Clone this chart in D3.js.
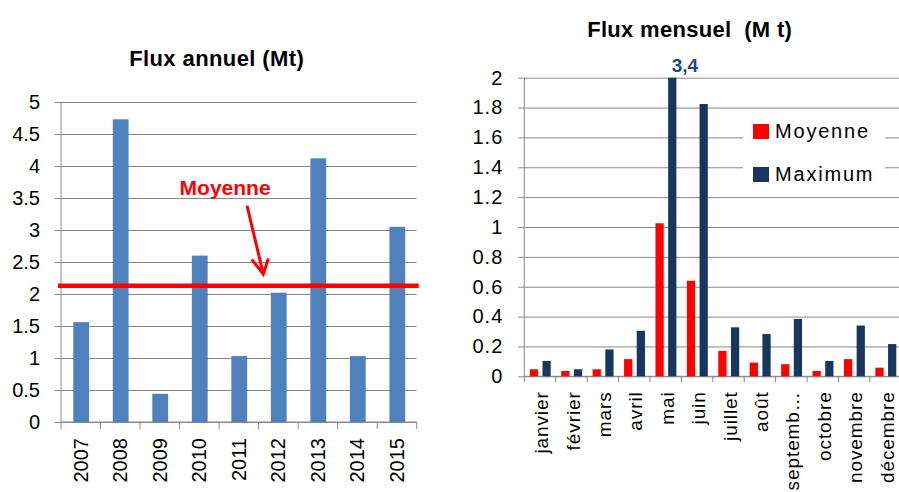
<!DOCTYPE html>
<html>
<head>
<meta charset="utf-8">
<script src="https://cdn.jsdelivr.net/npm/d3@7"></script>
<style>
  body { margin: 0; background: #fff; }
  svg { display: block; font-family: "Liberation Sans", Arial, sans-serif; }
  .grid line { stroke: #888; stroke-width: 1; }
  .grid path { display: none; }
  .axis path, .axis line { stroke: #888; }
  .axis text { fill: #000; }
</style>
</head>
<body>
<script>
// gegevens linker grafiek (flux annuel)
var annees = ["2007", "2008", "2009", "2010", "2011", "2012", "2013", "2014", "2015"];
var fluxAnnuel = [1.56, 4.73, 0.44, 2.6, 1.03, 2.02, 4.12, 1.03, 3.05];
var moyenneAnnuelle = 2.13;
var ticksAnnuel = [0, 0.5, 1, 1.5, 2, 2.5, 3, 3.5, 4, 4.5, 5];

// gegevens rechter grafiek (flux mensuel)
var mois = ["janvier", "février", "mars", "avril", "mai", "juin", "juillet", "août", "septemb…", "octobre", "novembre", "décembre"];
var series = ["Moyenne", "Maximum"];
var moyenneMensuelle = [0.047, 0.036, 0.047, 0.115, 1.025, 0.64, 0.17, 0.092, 0.081, 0.036, 0.115, 0.058];
var maximumMensuel = [0.103, 0.047, 0.18, 0.305, 3.4, 1.824, 0.328, 0.283, 0.384, 0.103, 0.34, 0.216];
var ticksMensuel = [0, 0.2, 0.4, 0.6, 0.8, 1, 1.2, 1.4, 1.6, 1.8, 2];

var svg = d3.select("body").append("svg")
    .attr("width", 899)
    .attr("height", 492);

// ---------- linker grafiek ----------
var m1 = { left: 61, top: 102 },
    w1 = 355.7,
    h1 = 320;

var xa = d3.scaleBand().domain(annees).range([0, w1]);
var ya = d3.scaleLinear().domain([0, 5]).range([h1, 0]);

var g1 = svg.append("g")
    .attr("transform", "translate(" + m1.left + "," + m1.top + ")");

g1.append("g")
    .attr("class", "grid")
    .call(d3.axisLeft(ya).tickValues(ticksAnnuel).tickSize(-w1).tickFormat(""));

g1.append("g")
    .attr("class", "axis")
    .call(d3.axisLeft(ya).tickValues(ticksAnnuel).tickFormat(function (d) { return String(d); })
        .tickSize(6).tickSizeOuter(0).tickPadding(15))
    .call(function (a) { a.selectAll("text").attr("font-size", 20); a.select(".domain").attr("d", "M0,0V" + h1); });

// bodemas met streepjes op de grenzen
g1.append("line").attr("x1", 0).attr("x2", w1).attr("y1", h1).attr("y2", h1).attr("stroke", "#888");
g1.append("g").selectAll("line")
    .data(annees.map(function (d) { return xa(d); }).concat([w1]))
    .enter().append("line")
    .attr("x1", function (d) { return d; })
    .attr("x2", function (d) { return d; })
    .attr("y1", h1).attr("y2", h1 + 7)
    .attr("stroke", "#888");

g1.append("g").selectAll("rect")
    .data(annees)
    .enter().append("rect")
    .attr("x", function (d) { return xa(d) + xa.bandwidth() * 0.31; })
    .attr("y", function (d, i) { return ya(fluxAnnuel[i]); })
    .attr("width", xa.bandwidth() * 0.4)
    .attr("height", function (d, i) { return h1 - ya(fluxAnnuel[i]); })
    .attr("fill", "#4f81bd");

g1.append("g").selectAll("text")
    .data(annees)
    .enter().append("text")
    .attr("transform", function (d) { return "translate(" + (xa(d) + xa.bandwidth() / 2) + "," + (h1 + 16) + ") rotate(-90)"; })
    .attr("dy", "0.35em")
    .attr("text-anchor", "end")
    .attr("font-size", 20)
    .text(function (d) { return d; });

// lijn van het gemiddelde
g1.append("line")
    .attr("x1", -3).attr("x2", w1 + 2)
    .attr("y1", ya(moyenneAnnuelle)).attr("y2", ya(moyenneAnnuelle))
    .attr("stroke", "#ff0000")
    .attr("stroke-width", 4.5);

g1.append("text")
    .attr("x", xa("2011") + 6)
    .attr("y", ya(3.55))
    .attr("text-anchor", "middle")
    .attr("font-size", 21)
    .attr("font-weight", "bold")
    .attr("fill", "#ff0000")
    .text("Moyenne");

// pijl naar de lijn
var tipX = xa("2012") + 4.7, tipY = ya(2.31);
g1.append("path")
    .attr("d", "M" + (tipX - 16.3) + "," + ya(3.38) + "L" + tipX + "," + tipY +
        "M" + (tipX - 11.6) + "," + (tipY - 14.7) + "L" + tipX + "," + tipY + "L" + (tipX + 5) + "," + (tipY - 15.7))
    .attr("fill", "none")
    .attr("stroke", "#ff0000")
    .attr("stroke-width", 3);

svg.append("text")
    .attr("x", 216.7)
    .attr("y", 66)
    .attr("text-anchor", "middle")
    .attr("font-size", 22)
    .attr("font-weight", "bold")
    .attr("letter-spacing", "0.4px")
    .text("Flux annuel (Mt)");

// ---------- rechter grafiek ----------
var m2 = { left: 524.3, top: 77.7 },
    w2 = 377,
    h2 = 298.6;

var x0 = d3.scaleBand().domain(mois).range([0, w2]);
var x1 = d3.scaleBand().domain(series).range([5.5, x0.bandwidth() - 5]).paddingInner(0.35);
var yb = d3.scaleLinear().domain([0, 2]).range([h2, 0]).clamp(true);
var z = d3.scaleOrdinal().domain(series).range(["#ff0000", "#17375e"]);

var rows = mois.map(function (m, i) {
    return { mois: m, Moyenne: moyenneMensuelle[i], Maximum: maximumMensuel[i] };
});

var g2 = svg.append("g")
    .attr("transform", "translate(" + m2.left + "," + m2.top + ")");

g2.append("g")
    .attr("class", "grid")
    .call(d3.axisLeft(yb).tickValues(ticksMensuel).tickSize(-w2).tickFormat(""));

g2.append("g")
    .attr("class", "axis")
    .call(d3.axisLeft(yb).tickValues(ticksMensuel).tickFormat(function (d) { return String(d); })
        .tickSize(6).tickSizeOuter(0).tickPadding(15))
    .call(function (a) {
        a.selectAll("text").attr("font-size", 20).attr("letter-spacing", "1px");
        a.select(".domain").attr("d", "M0,0V" + h2);
    });

g2.append("line").attr("x1", 0).attr("x2", w2).attr("y1", h2).attr("y2", h2).attr("stroke", "#888");
g2.append("g").selectAll("line")
    .data(mois.map(function (d) { return x0(d); }).concat([w2]))
    .enter().append("line")
    .attr("x1", function (d) { return d; })
    .attr("x2", function (d) { return d; })
    .attr("y1", h2).attr("y2", h2 + 6)
    .attr("stroke", "#888");

g2.append("g").selectAll("g")
    .data(rows)
    .enter().append("g")
    .attr("transform", function (d) { return "translate(" + x0(d.mois) + ",0)"; })
    .selectAll("rect")
    .data(function (d) { return series.map(function (k) { return { key: k, value: d[k] }; }); })
    .enter().append("rect")
    .attr("x", function (d) { return x1(d.key); })
    .attr("y", function (d) { return yb(d.value); })
    .attr("width", x1.bandwidth())
    .attr("height", function (d) { return h2 - yb(d.value); })
    .attr("fill", function (d) { return z(d.key); });

// waarde boven de afgekapte balk van mei
g2.append("text")
    .attr("x", x0("mai") + x1("Maximum") + x1.bandwidth() / 2 + 12.7)
    .attr("y", yb(2) - 6)
    .attr("text-anchor", "middle")
    .attr("font-size", 19)
    .attr("font-weight", "bold")
    .attr("fill", "#1f497d")
    .text(String(maximumMensuel[4]).replace(".", ","));

g2.append("g").selectAll("text")
    .data(mois)
    .enter().append("text")
    .attr("transform", function (d) { return "translate(" + (x0(d) + x0.bandwidth() / 2 + 1.5) + "," + (h2 + 15) + ") rotate(-90)"; })
    .attr("dy", "0.35em")
    .attr("text-anchor", "end")
    .attr("font-size", 19)
    .attr("letter-spacing", "0.9px")
    .text(function (d) { return d; });

// legenda
svg.append("rect")
    .attr("x", 743).attr("y", 117)
    .attr("width", 142).attr("height", 79)
    .attr("fill", "#fff");

var legenda = svg.append("g").selectAll("g")
    .data(series)
    .enter().append("g")
    .attr("transform", function (d, i) { return "translate(753," + (124 + i * 43) + ")"; });

legenda.append("rect")
    .attr("width", 16).attr("height", 15)
    .attr("fill", z);

legenda.append("text")
    .attr("x", 22)
    .attr("y", 14)
    .attr("font-size", 20)
    .attr("letter-spacing", "1.8px")
    .text(function (d) { return d; });

svg.append("text")
    .attr("x", 689.7)
    .attr("y", 36.7)
    .attr("text-anchor", "middle")
    .attr("font-size", 22)
    .attr("font-weight", "bold")
    .attr("letter-spacing", "0.3px")
    .style("white-space", "pre")
    .text("Flux mensuel  (M t)");
</script>
</body>
</html>
